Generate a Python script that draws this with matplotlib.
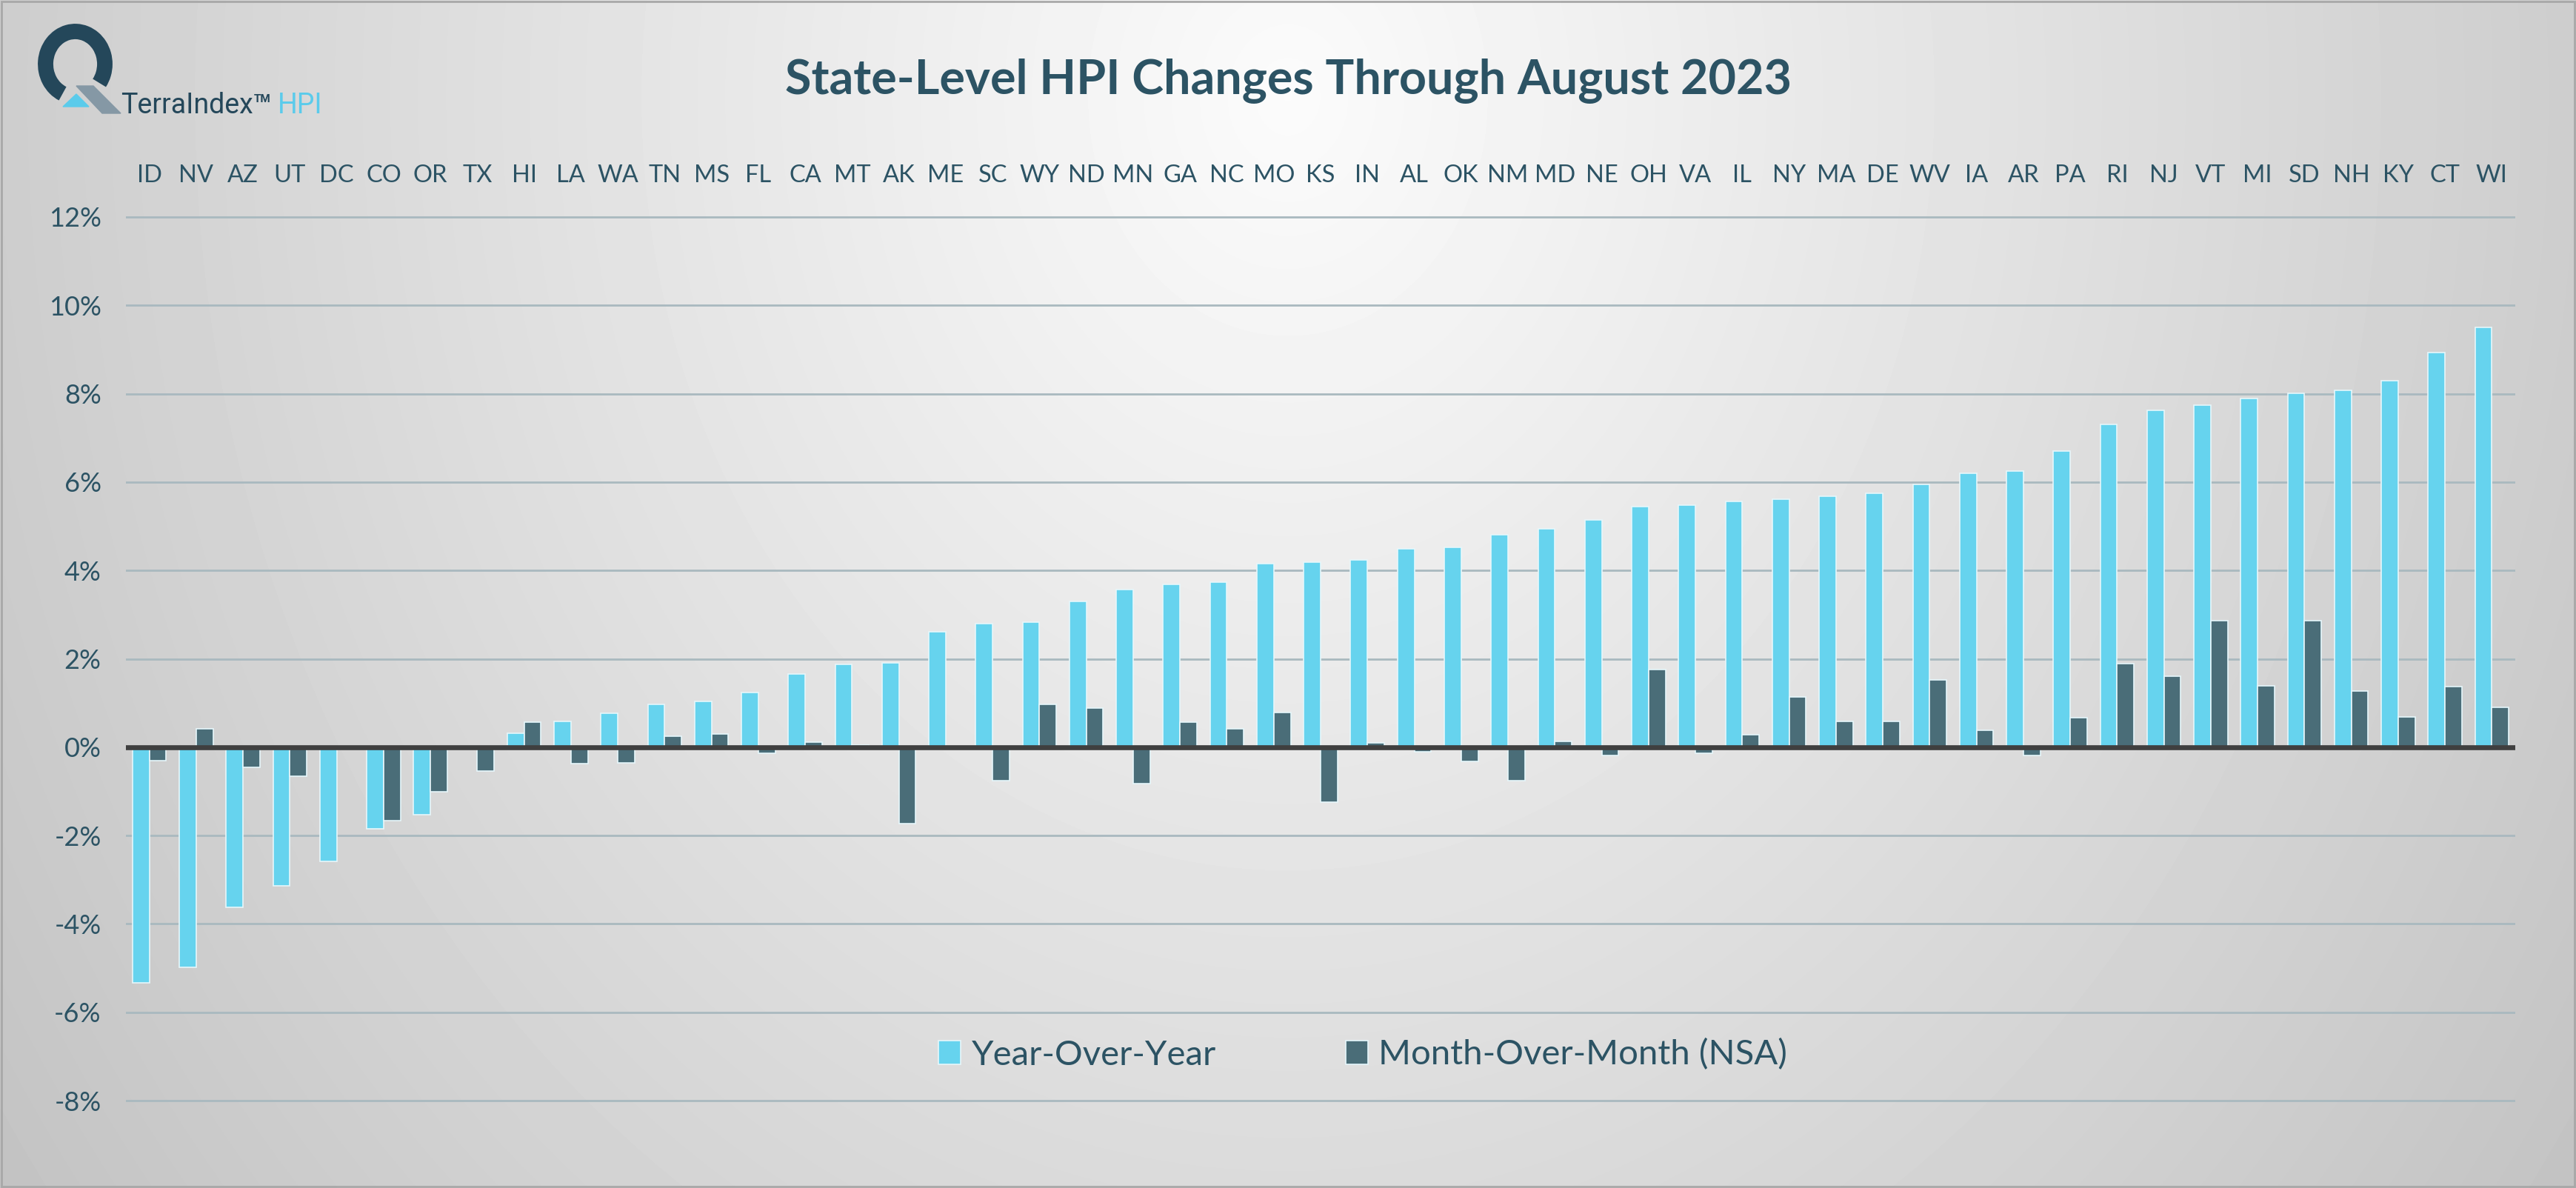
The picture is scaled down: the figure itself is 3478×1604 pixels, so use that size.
import numpy as np
import matplotlib.pyplot as plt
from matplotlib.patches import Arc, Polygon, Rectangle

plt.rcParams['font.family'] = ['Lato', 'DejaVu Sans']

# state-level HPI changes through August 2023 (%)
states = ['ID', 'NV', 'AZ', 'UT', 'DC', 'CO', 'OR', 'TX', 'HI', 'LA', 'WA', 'TN', 'MS',
          'FL', 'CA', 'MT', 'AK', 'ME', 'SC', 'WY', 'ND', 'MN', 'GA', 'NC', 'MO', 'KS',
          'IN', 'AL', 'OK', 'NM', 'MD', 'NE', 'OH', 'VA', 'IL', 'NY', 'MA', 'DE', 'WV',
          'IA', 'AR', 'PA', 'RI', 'NJ', 'VT', 'MI', 'SD', 'NH', 'KY', 'CT', 'WI']
yoy = [-5.34, -4.99, -3.62, -3.13, -2.59, -1.84, -1.53, 0.0, 0.32, 0.58, 0.76, 0.97, 1.04,
       1.24, 1.65, 1.88, 1.91, 2.61, 2.80, 2.83, 3.30, 3.56, 3.69, 3.74, 4.16, 4.19,
       4.24, 4.49, 4.52, 4.81, 4.95, 5.15, 5.45, 5.48, 5.57, 5.61, 5.68, 5.74, 5.94,
       6.20, 6.25, 6.70, 7.30, 7.62, 7.74, 7.89, 8.01, 8.08, 8.30, 8.94, 9.51]
mom = [-0.30, 0.41, -0.46, -0.65, 0.0, -1.66, -1.01, -0.54, 0.56, -0.37, -0.35, 0.24, 0.30,
       -0.14, 0.11, 0.04, -1.73, 0.0, -0.75, 0.97, 0.88, -0.82, 0.56, 0.41, 0.79, -1.25,
       0.09, -0.10, -0.32, -0.75, 0.13, -0.18, 1.76, -0.13, 0.29, 1.14, 0.59, 0.58, 1.53,
       0.38, -0.19, 0.66, 1.89, 1.60, 2.87, 1.38, 2.87, 1.27, 0.69, 1.37, 0.91]
yticks = list(range(-8, 13, 2))

title = 'State-Level HPI Changes Through August 2023'
series_names = ['Year-Over-Year', 'Month-Over-Month (NSA)']

W, H = 3478, 1604
dark = '#2C5364'
cyan = '#66D3EE'
slate = '#4A6D78'

fig = plt.figure(figsize=(W / 100, H / 100), dpi=100)

# background with radial grey gradient, logo and border
bg = fig.add_axes([0, 0, 1, 1])
gx, gy = np.meshgrid(np.linspace(0, 1, 700), np.linspace(0, 1, 320))
d = np.sqrt(((gx - 0.5) / 0.5) ** 2 + ((gy - 0.08) / 1.3) ** 2)
shade = np.clip(0.985 - 0.18 * d, 0, 1)
bg.imshow(shade, cmap='gray', vmin=0, vmax=1, extent=(0, W, 0, H), aspect='auto',
          interpolation='bilinear')
bg.set_xlim(0, W)
bg.set_ylim(0, H)
bg.axis('off')
bg.add_patch(Rectangle((2, 2), W - 4, H - 4, fill=False, ec='#A8A8A8', lw=2))

bg.add_patch(Arc((101.5, H - 86.5), 80, 88, theta1=322, theta2=607, lw=15, color='#24475A'))
bg.add_patch(Polygon([(103, H - 116), (126, H - 116), (163, H - 153), (138, H - 153)],
                     closed=True, color='#8598A5'))
bg.add_patch(Polygon([(85, H - 144), (103, H - 127), (120, H - 144)], closed=True, color='#5BCBEB'))
logo = bg.text(163, H - 153, 'TerraIndex', family='Roboto', fontsize=27,
               color='#24475A', va='baseline')
bg.annotate('TM', xy=(1, 1), xycoords=logo, xytext=(1, -2), textcoords='offset points',
            family='Roboto', fontsize=11, fontweight='bold', color='#24475A',
            ha='left', va='top')
bg.annotate('HPI', xy=(1, 0), xycoords=logo, xytext=(24, 0), textcoords='offset points',
            family='Roboto', fontsize=27, color='#5BCBEB', ha='left', va='bottom')

fig.text(0.5, 1 - 109 / H, title, ha='center', va='center', fontsize=46.5,
         fontweight='bold', color=dark)

# main chart
ax = fig.add_axes([170 / W, 1 - 1489 / H, (3396 - 170) / W, (1489 - 290) / H])
ax.set_facecolor('none')
x = np.arange(len(states))
w = 0.36
b1 = ax.bar(x - w / 2, yoy, w, color=cyan, edgecolor='#E6F7FB', lw=1.2, zorder=2)
b2 = ax.bar(x + w / 2, mom, w, color=slate, edgecolor='#E6F7FB', lw=1.2, zorder=2)
ax.axhline(0, color='#3F3F3F', lw=4.8, zorder=3)

ax.set_xlim(-0.5, len(states) - 0.5)
ax.set_ylim(-8.05, 12.05)
ax.set_yticks(yticks)
ax.set_yticklabels([f'{t}%' for t in yticks])
ax.yaxis.grid(True, color='#A9B9BF', lw=2)
ax.set_axisbelow(True)
ax.xaxis.tick_top()
ax.set_xticks(x)
ax.set_xticklabels(states)
ax.tick_params(axis='x', length=0, pad=27, labelsize=23.5, labelcolor=dark)
ax.tick_params(axis='y', length=0, pad=24, labelsize=26, labelcolor=dark)
for s in ax.spines.values():
    s.set_visible(False)

fig.legend([b1, b2], series_names, loc='center', bbox_to_anchor=(1840 / W, 1 - 1424 / H),
           ncol=2, frameon=False, prop={'family': 'Lato', 'size': 34}, labelcolor=dark,
           handlelength=0.65, handleheight=0.65, handletextpad=0.3, columnspacing=3.7)

fig.savefig('out.png', dpi=100)
